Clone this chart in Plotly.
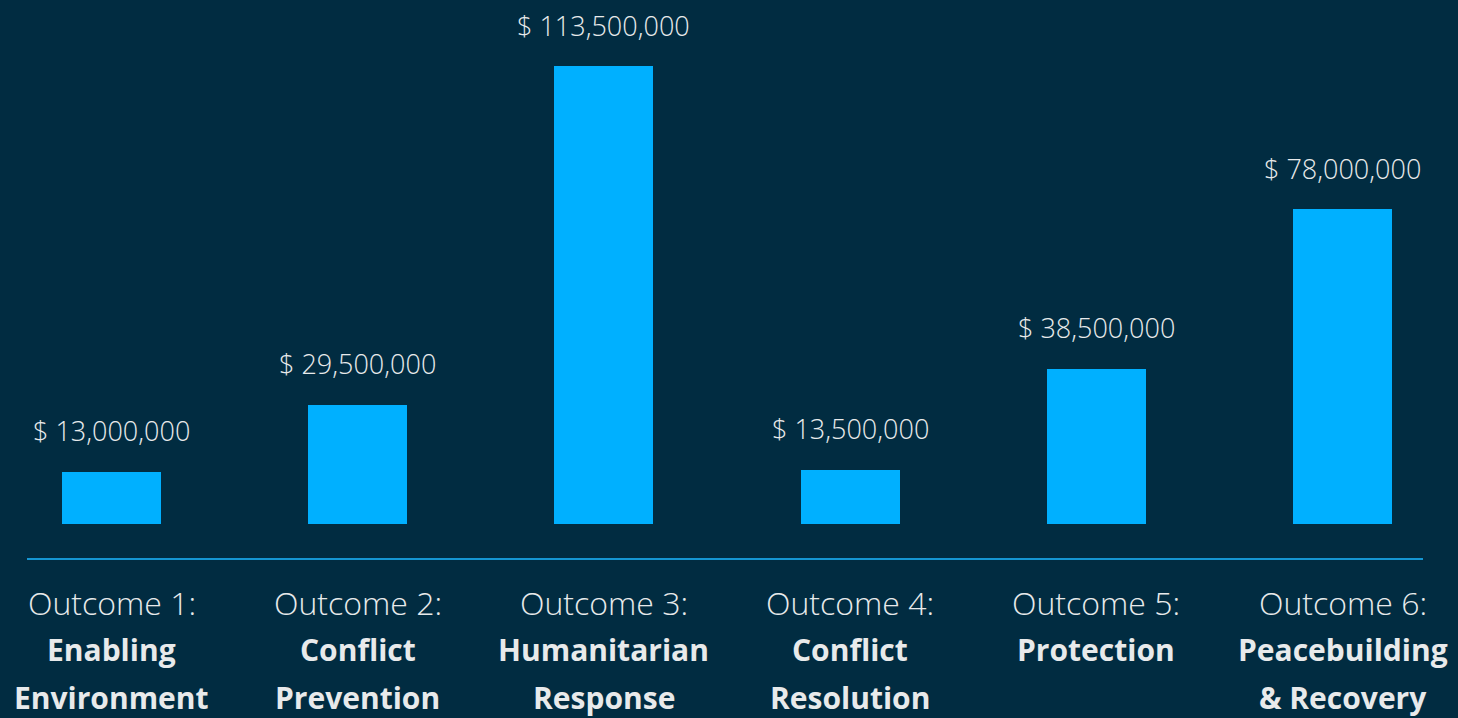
import plotly.graph_objects as go

outcome_labels = ["Outcome 1:", "Outcome 2:", "Outcome 3:", "Outcome 4:", "Outcome 5:", "Outcome 6:"]
name_line1 = ["Enabling", "Conflict", "Humanitarian", "Conflict", "Protection", "Peacebuilding"]
name_line2 = ["Environment", "Prevention", "Response", "Resolution", "", "& Recovery"]
values = [13000000, 29500000, 113500000, 13500000, 38500000, 78000000]
value_labels = ["$ 13,000,000", "$ 29,500,000", "$ 113,500,000", "$ 13,500,000", "$ 38,500,000", "$ 78,000,000"]

BG = "#012c41"
BAR = "#00b0ff"
TXT = "#e8eaeb"
W, H = 1458, 718
px_per_cat = 246.2
x0 = -111.5 / px_per_cat
x1 = x0 + W / px_per_cat
px_per_val = 458 / 113.5e6
y_top = 524 / px_per_val
y_bot = -(H - 524) / px_per_val

xs = list(range(len(values)))
fig = go.Figure()
fig.add_trace(go.Bar(x=xs, y=values, width=0.402, marker=dict(color=BAR, line=dict(width=0)),
                     hoverinfo="skip"))

FONT = "Open Sans"
ann = []
for i, (v, t) in enumerate(zip(values, value_labels)):
    ann.append(dict(x=i, y=v, xref="x", yref="y", text=t, showarrow=False, yanchor="middle",
                    yshift=41, font=dict(family=FONT, size=27, color=TXT, weight=300)))
def py(p):
    return 1 - p / H
for i in xs:
    ann.append(dict(x=i, y=py(602), xref="x", yref="paper", text=outcome_labels[i], showarrow=False,
                    yanchor="middle", font=dict(family=FONT, size=32, color=TXT, weight=300)))
    ann.append(dict(x=i, y=py(649), xref="x", yref="paper", text=name_line1[i], showarrow=False,
                    yanchor="middle", font=dict(family=FONT, size=30, color=TXT, weight=700)))
    if name_line2[i]:
        ann.append(dict(x=i, y=py(697), xref="x", yref="paper", text=name_line2[i], showarrow=False,
                        yanchor="middle", font=dict(family=FONT, size=30, color=TXT, weight=700)))

line_y = -(559 - 524) / px_per_val
fig.add_shape(type="line", xref="x", yref="y", x0=x0 + 27 / px_per_cat, x1=x0 + 1423 / px_per_cat,
              y0=line_y, y1=line_y, line=dict(color="#1596d2", width=2))

fig.update_layout(
    width=W, height=H, margin=dict(l=0, r=0, t=0, b=0),
    paper_bgcolor=BG, plot_bgcolor=BG, showlegend=False,
    xaxis=dict(range=[x0, x1], visible=False, fixedrange=True),
    yaxis=dict(range=[y_bot, y_top], visible=False, fixedrange=True),
    annotations=ann, bargap=0,
)
fig.write_html("out.html", config={"displayModeBar": False},
               post_script="document.body.style.margin='0';document.body.style.background='%s';" % BG)
